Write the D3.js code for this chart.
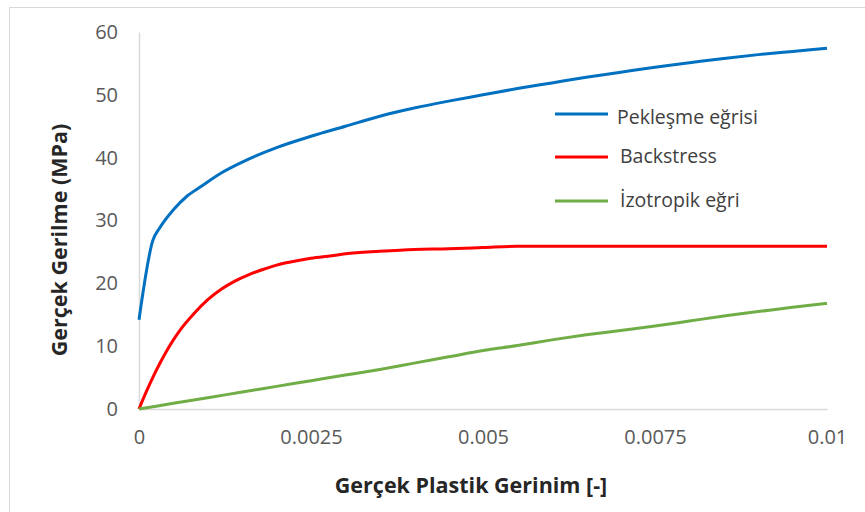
<!DOCTYPE html>
<html lang="tr">
<head>
<meta charset="UTF-8">
<title>Gerçek Gerilme - Plastik Gerinim</title>
<script src="https://d3js.org/d3.v7.min.js"></script>
<style>
    body { margin: 0; background: #fff; }
    .tick text { font-family: "Open Sans", sans-serif; font-size: 20px; fill: #595959; }
    .axis-title { font-family: "Open Sans", sans-serif; font-size: 21.5px; font-weight: bold; fill: #262626; }
    .legend text { font-family: "Open Sans", sans-serif; font-size: 19.5px; fill: #404040; }
</style>
</head>
<body>
<script>
// strain values for each curve
const pekX = [0, 0.0002, 0.0003, 0.0005, 0.0007, 0.0009, 0.0012, 0.0015, 0.002, 0.0025, 0.003, 0.0035, 0.004,
    0.0045, 0.005, 0.0055, 0.006, 0.0065, 0.007, 0.0075, 0.008, 0.0085, 0.009, 0.0095, 0.01];
const pekY = [14.2, 26.8, 28.8, 31.7, 33.9, 35.4, 37.6, 39.3, 41.6, 43.4, 45.0, 46.6, 47.9,
    49.0, 50.0, 51.0, 51.9, 52.8, 53.6, 54.4, 55.1, 55.8, 56.4, 56.9, 57.4];

const backX = [0, 0.0001, 0.0002, 0.0003, 0.0004, 0.0005, 0.0006, 0.0008, 0.001, 0.0012, 0.0014, 0.0016, 0.0018,
    0.002, 0.0022, 0.0025, 0.0028, 0.003, 0.0035, 0.004, 0.0045, 0.005, 0.0055, 0.006, 0.007, 0.008, 0.009, 0.01];
const backY = [0, 2.6, 5.0, 7.2, 9.2, 11.0, 12.6, 15.2, 17.4, 19.1, 20.4, 21.4, 22.2,
    22.9, 23.4, 24.0, 24.4, 24.7, 25.1, 25.4, 25.5, 25.7, 25.9, 25.9, 25.9, 25.9, 25.9, 25.9];

const izoX = [0, 0.0005, 0.001, 0.0015, 0.002, 0.0025, 0.003, 0.0035, 0.004, 0.0045, 0.005,
    0.0055, 0.006, 0.0065, 0.007, 0.0075, 0.008, 0.0085, 0.009, 0.0095, 0.01];
const izoY = [0, 0.9, 1.8, 2.7, 3.6, 4.5, 5.4, 6.3, 7.3, 8.3, 9.3,
    10.1, 11.0, 11.8, 12.5, 13.2, 14.0, 14.8, 15.5, 16.2, 16.8];

const seriesNames = ["Pekleşme eğrisi", "Backstress", "İzotropik eğri"];
const seriesColors = ["#0070C0", "#FF0000", "#70AD47"];

const xTicks = [0, 0.0025, 0.005, 0.0075, 0.01];
const xTickLabels = ["0", "0.0025", "0.005", "0.0075", "0.01"];
const yTicks = [0, 10, 20, 30, 40, 50, 60];

const width = 865;
const height = 512;
const margin = {top: 32, right: 38, bottom: 103, left: 139};

const svg = d3.select("body")
    .append("svg")
    .attr("width", width)
    .attr("height", height);

// light chart frame
svg.append("rect")
    .attr("x", 9.5)
    .attr("y", 7.5)
    .attr("width", 900)
    .attr("height", 600)
    .attr("fill", "none")
    .attr("stroke", "#d9d9d9");

const x = d3.scaleLinear()
    .domain([0, 0.01])
    .range([margin.left, width - margin.right]);

const y = d3.scaleLinear()
    .domain([0, 60])
    .range([height - margin.bottom, margin.top]);

const xAxis = svg.append("g")
    .attr("transform", `translate(0,${y(0)})`)
    .call(d3.axisBottom(x).tickValues(xTicks).tickFormat((d, i) => xTickLabels[i]).tickSize(0).tickPadding(21));

const yAxis = svg.append("g")
    .attr("transform", `translate(${x(0)},0)`)
    .call(d3.axisLeft(y).tickValues(yTicks).tickSize(0).tickPadding(21));

[xAxis, yAxis].forEach(g => {
    g.select(".domain").attr("stroke", "#d9d9d9").attr("stroke-width", 1.5);
});

// axis titles
svg.append("text")
    .attr("class", "axis-title")
    .attr("x", 471)
    .attr("y", 493)
    .attr("text-anchor", "middle")
    .text("Gerçek Plastik Gerinim [-]");

svg.append("text")
    .attr("class", "axis-title")
    .attr("transform", `translate(67,240) rotate(-90)`)
    .attr("text-anchor", "middle")
    .text("Gerçek Gerilme (MPa)");

const series = [
    {name: seriesNames[0], color: seriesColors[0], pts: pekX.map((v, i) => [v, pekY[i]])},
    {name: seriesNames[1], color: seriesColors[1], pts: backX.map((v, i) => [v, backY[i]])},
    {name: seriesNames[2], color: seriesColors[2], pts: izoX.map((v, i) => [v, izoY[i]])}
];

const line = d3.line()
    .x(d => x(d[0]))
    .y(d => y(d[1]))
    .curve(d3.curveMonotoneX);

svg.append("g")
    .selectAll("path")
    .data(series)
    .join("path")
    .attr("fill", "none")
    .attr("stroke", d => d.color)
    .attr("stroke-width", 3)
    .attr("stroke-linejoin", "round")
    .attr("d", d => line(d.pts));

// legend
const legendY = [114, 157, 201];
const legend = svg.append("g")
    .attr("class", "legend")
    .selectAll("g")
    .data(series)
    .join("g")
    .attr("transform", (d, i) => `translate(555,${legendY[i]})`);

legend.append("line")
    .attr("x1", 0)
    .attr("x2", 53)
    .attr("stroke", d => d.color)
    .attr("stroke-width", 3);

legend.append("text")
    .attr("x", (d, i) => i === 0 ? 62 : 65)
    .attr("y", (d, i) => i === 0 ? 3 : -1)
    .attr("dy", "0.35em")
    .text(d => d.name);
</script>
</body>
</html>
